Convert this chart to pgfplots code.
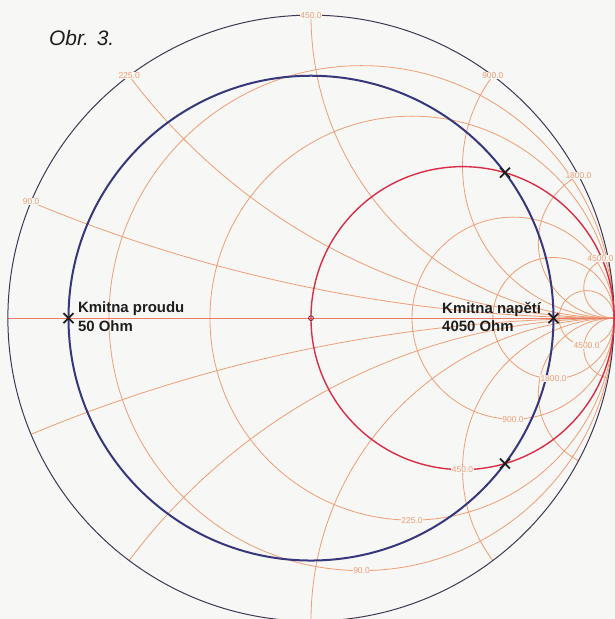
\documentclass[border=0pt]{standalone}
\usepackage{pgfplots}
\pgfplotsset{compat=1.18}
\usepackage{fontspec}
\setmainfont{Liberation Sans}
\definecolor{bgc}{RGB}{247,247,245}
\definecolor{gridc}{RGB}{238,158,118}
\definecolor{outerc}{RGB}{65,55,85}
\definecolor{vswr}{RGB}{55,55,125}
\definecolor{rone}{RGB}{218,45,70}
\definecolor{txt}{RGB}{30,30,30}
\tikzset{
  glabel/.style={fill=bgc, inner sep=0.6bp, text=gridc, font=\fontsize{8.5}{9}\selectfont},
  klabel/.style={anchor=base west, inner sep=0pt, text=txt, font=\fontsize{15}{17}\selectfont\bfseries},
}
\begin{document}
\begin{tikzpicture}
\begin{axis}[
  scale only axis, width=615bp, height=619bp,
  xmin=-1.026, xmax=1.003, ymin=-0.993, ymax=1.050,
  hide axis, clip=true,
]
\fill[bgc] (rel axis cs:0,0) rectangle (rel axis cs:1,1);
\begin{scope}
  \clip (axis cs:0,0) circle[radius=1];
  % resistance circles
  \draw[gridc, line width=0.8bp] (axis cs:0.16667,0) circle[radius=0.83333];
  \draw[gridc, line width=0.8bp] (axis cs:0.33333,0) circle[radius=0.66667];
  \draw[gridc, line width=0.8bp] (axis cs:0.66667,0) circle[radius=0.33333];
  \draw[gridc, line width=0.8bp] (axis cs:0.8,0) circle[radius=0.2];
  \draw[gridc, line width=0.8bp] (axis cs:0.90909,0) circle[radius=0.09091];
  % reactance arcs
  \draw[gridc, line width=0.8bp] (axis cs:1,5) circle[radius=5];
  \draw[gridc, line width=0.8bp] (axis cs:1,-5) circle[radius=5];
  \draw[gridc, line width=0.8bp] (axis cs:1,2) circle[radius=2];
  \draw[gridc, line width=0.8bp] (axis cs:1,-2) circle[radius=2];
  \draw[gridc, line width=0.8bp] (axis cs:1,1) circle[radius=1];
  \draw[gridc, line width=0.8bp] (axis cs:1,-1) circle[radius=1];
  \draw[gridc, line width=0.8bp] (axis cs:1,0.5) circle[radius=0.5];
  \draw[gridc, line width=0.8bp] (axis cs:1,-0.5) circle[radius=0.5];
  \draw[gridc, line width=0.8bp] (axis cs:1,0.25) circle[radius=0.25];
  \draw[gridc, line width=0.8bp] (axis cs:1,-0.25) circle[radius=0.25];
  \draw[gridc, line width=0.8bp] (axis cs:1,0.1) circle[radius=0.1];
  \draw[gridc, line width=0.8bp] (axis cs:1,-0.1) circle[radius=0.1];
  \draw[gridc!70!rone, line width=0.8bp] (axis cs:-1,0) -- (axis cs:1,0);
\end{scope}
% outer circle
\draw[outerc, line width=1bp] (axis cs:0,0) circle[radius=1];
% r = 1 circle (450 Ohm)
\draw[rone, line width=1.4bp] (axis cs:0.5,0) circle[radius=0.5];
\draw[rone!60!black, line width=0.8bp] (axis cs:0,0) circle[radius=0.008];
% constant VSWR circle |Gamma| = 0.8
\draw[vswr, line width=2bp] (axis cs:0,0) circle[radius=0.8];
% grid labels (reactance, on the rim)
\node[glabel] at (axis cs:-0.9231,0.3846) {90.0};
\node[glabel] at (axis cs:-0.6,0.8) {225.0};
\node[glabel] at (axis cs:0,1) {450.0};
\node[glabel] at (axis cs:0.6,0.8) {900.0};
\node[glabel] at (axis cs:0.8824,0.4706) {1800.0};
\node[glabel, anchor=east] at (axis cs:1.0,0.1980) {4500.0};
% grid labels (resistance, at the bottom of each circle)
\node[glabel] at (axis cs:0.16667,-0.83333) {90.0};
\node[glabel] at (axis cs:0.33333,-0.66667) {225.0};
\node[glabel] at (axis cs:0.5,-0.5) {450.0};
\node[glabel] at (axis cs:0.66667,-0.33333) {900.0};
\node[glabel] at (axis cs:0.8,-0.2) {1800.0};
\node[glabel] at (axis cs:0.90909,-0.09091) {4500.0};
% points
\addplot[only marks, mark=x, mark size=7bp, line width=1.8bp, txt]
  coordinates {(-0.8,0) (0.8,0) (0.64,0.48) (0.64,-0.48)};
\node[klabel] at (axis cs:-0.769,0.0198) {Kmitna proudu};
\node[klabel] at (axis cs:-0.769,-0.0452) {50 Ohm};
\node[klabel] at (axis cs:0.4323,0.0165) {Kmitna napětí};
\node[klabel] at (axis cs:0.4323,-0.0452) {4050 Ohm};
\node[anchor=base west, inner sep=0pt, text=txt, font=\fontsize{21}{24}\selectfont\itshape] at (axis cs:-0.8647,0.901) {Obr. 3.};
\end{axis}
\pgfresetboundingbox
\path[use as bounding box] (current axis.south west) rectangle (current axis.north east);
\end{tikzpicture}
\end{document}
